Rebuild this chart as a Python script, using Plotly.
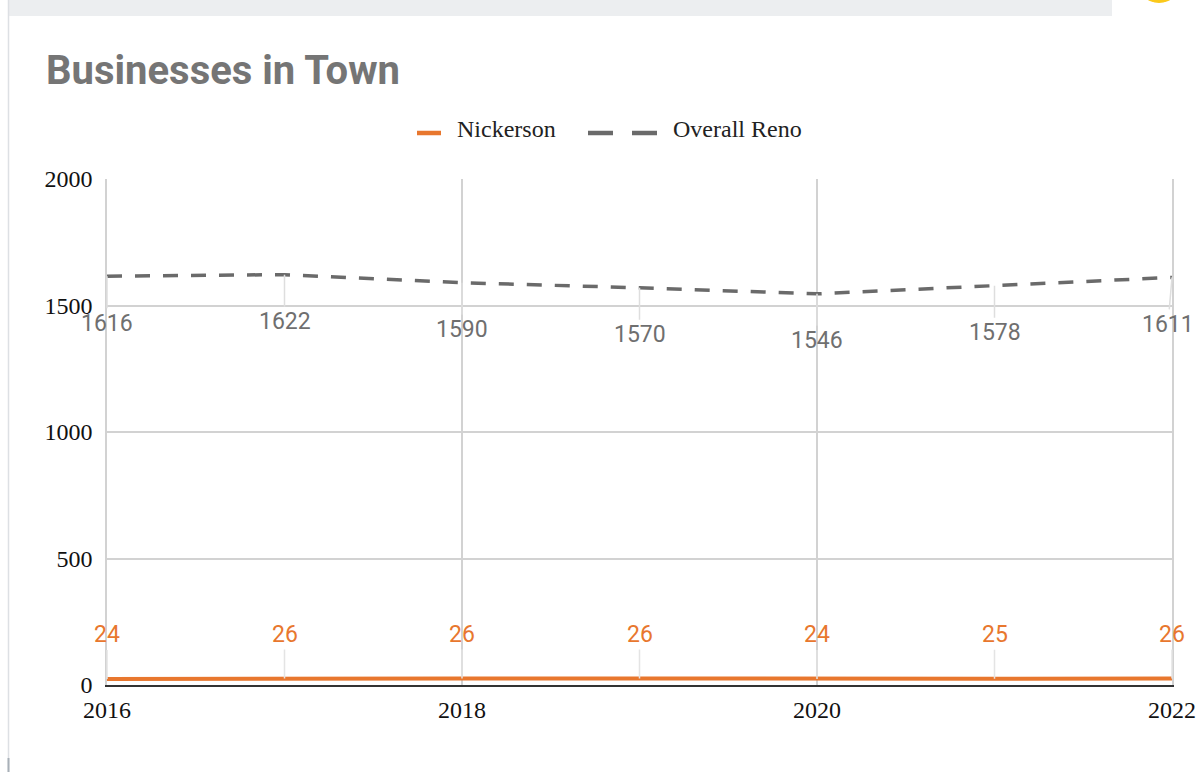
import plotly.graph_objects as go

# Yearly business counts
years = [2016, 2017, 2018, 2019, 2020, 2021, 2022]
nickerson = [24, 26, 26, 26, 24, 25, 26]
overall_reno = [1616, 1622, 1590, 1570, 1546, 1578, 1611]

y_ticks = [0, 500, 1000, 1500, 2000]
x_ticks = [2016, 2018, 2020, 2022]

W, H = 1196, 772
L, R, T, B = 107, 24, 179, 87
PW, PH = W - L - R, H - T - B

ORANGE = "#e8772e"
GREY = "#6a6a6a"
GRID = "#d2d2d2"
SERIF = "Liberation Serif, Times New Roman, serif"
SANS = "Roboto, Arial, sans-serif"


def px(x):
    return (x - L) / PW


def py(y):
    return (H - B - y) / PH


fig = go.Figure()

fig.add_trace(go.Scatter(
    x=years, y=nickerson, mode="lines", name="Nickerson",
    line=dict(color=ORANGE, width=4), showlegend=False, cliponaxis=False,
))
fig.add_trace(go.Scatter(
    x=years, y=overall_reno, mode="lines", name="Overall Reno",
    line=dict(color=GREY, width=3.5, dash="15px,13px"), showlegend=False,
))

annotations = []
# value labels with leader lines; the last one is pulled in to stay on the page
last = len(years) - 1
for i, (x, v) in enumerate(zip(years, overall_reno)):
    annotations.append(dict(
        x=x, y=v, xref="x", yref="y", text=str(v), showarrow=True,
        ax=-4 if i == last else 0, ay=47, arrowhead=0, arrowwidth=1.5, arrowcolor="#dedede",
        standoff=0, startstandoff=0,
        font=dict(family=SANS, size=23, color="#6f6f6f"),
    ))
for i, (x, v) in enumerate(zip(years, nickerson)):
    annotations.append(dict(
        x=x, y=v, xref="x", yref="y", text=str(v), showarrow=True,
        ax=0, ay=-44, arrowhead=0, arrowwidth=1.5, arrowcolor="#e4e4e4",
        standoff=0, startstandoff=0,
        font=dict(family=SANS, size=23, color=ORANGE),
    ))

# title
annotations.append(dict(
    x=px(44), y=py(71), xref="paper", yref="paper", xanchor="left", yanchor="middle",
    text="<b>Businesses in Town</b>", showarrow=False,
    font=dict(family=SANS, size=40, color="#757575"),
))
# legend labels
annotations.append(dict(
    x=px(455), y=py(129), xref="paper", yref="paper", xanchor="left", yanchor="middle",
    text="Nickerson", showarrow=False, font=dict(family=SERIF, size=24, color="#222222"),
))
annotations.append(dict(
    x=px(671), y=py(129), xref="paper", yref="paper", xanchor="left", yanchor="middle",
    text="Overall Reno", showarrow=False, font=dict(family=SERIF, size=24, color="#222222"),
))

shapes = [
    # page header strip and frame
    dict(type="rect", xref="paper", yref="paper", x0=px(8), x1=px(1112), y0=py(0), y1=py(16),
         fillcolor="#eceef0", line=dict(width=0), layer="below"),
    dict(type="line", xref="paper", yref="paper", x0=px(8.5), x1=px(8.5), y0=py(0), y1=py(772),
         line=dict(color="#dde0e4", width=1.5), layer="below"),
    dict(type="line", xref="paper", yref="paper", x0=px(8.5), x1=px(8.5), y0=py(758), y1=py(772),
         line=dict(color="#a8b0b8", width=2), layer="below"),
    dict(type="circle", xref="paper", yref="paper", x0=px(1137), x1=px(1181), y0=py(-41), y1=py(3),
         fillcolor="#fbc91b", line=dict(width=0), layer="below"),
    # legend swatches
    dict(type="line", xref="paper", yref="paper", x0=px(417), x1=px(441), y0=py(133), y1=py(133),
         line=dict(color=ORANGE, width=4.5)),
    dict(type="line", xref="paper", yref="paper", x0=px(588), x1=px(613), y0=py(133), y1=py(133),
         line=dict(color=GREY, width=4.5)),
    dict(type="line", xref="paper", yref="paper", x0=px(632), x1=px(657), y0=py(133), y1=py(133),
         line=dict(color=GREY, width=4.5)),
]

fig.update_layout(
    width=W, height=H,
    margin=dict(l=L, r=R, t=T, b=B, pad=0, autoexpand=False),
    paper_bgcolor="white", plot_bgcolor="white",
    showlegend=False,
    annotations=annotations,
    shapes=shapes,
    xaxis=dict(
        range=[2016, 2022], tickvals=x_ticks, ticktext=[str(t) for t in x_ticks],
        showgrid=True, gridcolor=GRID, gridwidth=1.5,
        showline=True, linecolor="#333333", linewidth=2,
        zeroline=False, ticks="", ticklabelstandoff=2,
        tickfont=dict(family=SERIF, size=24, color="#111111"),
    ),
    yaxis=dict(
        range=[0, 2000], tickvals=y_ticks, ticktext=[str(t) for t in y_ticks],
        showgrid=True, gridcolor=GRID, gridwidth=1.5,
        showline=True, linecolor=GRID, linewidth=1.5, mirror=True,
        zeroline=False, ticks="", ticklabelstandoff=8,
        tickfont=dict(family=SERIF, size=24, color="#111111"),
    ),
)

fig.write_html("out.html")
